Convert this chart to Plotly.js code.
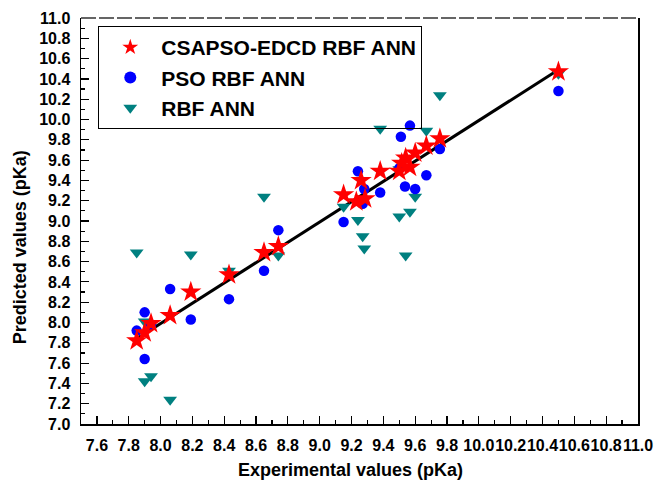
<!DOCTYPE html>
<html>
<head>
<meta charset="utf-8">
<script src="https://cdn.plot.ly/plotly-3.0.1.min.js"></script>
<style>html,body{margin:0;padding:0;background:#fff;}#chart{width:654px;height:483px;}</style>
</head>
<body>
<div id="chart"></div>
<script>
// CSAPSO-EDCD RBF ANN
var xStar = [7.85, 7.90, 7.94, 8.06, 8.19, 8.43, 8.65, 8.74, 9.15, 9.23, 9.285, 9.26, 9.38, 9.50, 9.515, 9.54, 9.567, 9.60, 9.67, 9.755, 10.50];
var yStar = [7.82, 7.90, 7.99, 8.07, 8.30, 8.47, 8.69, 8.75, 9.26, 9.19, 9.22, 9.40, 9.49, 9.49, 9.57, 9.62, 9.53, 9.67, 9.74, 9.81, 10.47];
// PSO RBF ANN
var xPso = [7.85, 7.90, 7.94, 7.90, 8.06, 8.19, 8.43, 8.65, 8.74, 9.15, 9.24, 9.27, 9.28, 9.38, 9.50, 9.51, 9.536, 9.567, 9.60, 9.67, 9.755, 10.50];
var yPso = [7.92, 8.10, 7.98, 7.64, 8.33, 8.03, 8.23, 8.51, 8.91, 8.99, 9.49, 9.17, 9.315, 9.28, 9.52, 9.83, 9.34, 9.94, 9.315, 9.45, 9.71, 10.28];
// RBF ANN
var xRbf = [7.85, 7.90, 7.90, 7.94, 8.06, 8.19, 8.43, 8.65, 8.74, 9.15, 9.24, 9.27, 9.28, 9.38, 9.50, 9.50, 9.54, 9.567, 9.60, 9.67, 9.755, 10.50];
var yRbf = [8.69, 8.01, 7.42, 7.47, 7.24, 8.67, 8.51, 9.24, 8.66, 9.14, 9.01, 8.85, 8.73, 9.91, 9.51, 9.045, 8.66, 9.09, 9.24, 9.89, 10.24, 10.45];
// fitted line
var lineX = [7.86, 10.48];
var lineY = [7.85, 10.47];

var seriesNames = ['CSAPSO-EDCD RBF ANN', 'PSO RBF ANN', 'RBF ANN'];
var xTitle = 'Experimental values (pKa)';
var yTitle = 'Predicted values (pKa)';

var FONT = 'Liberation Sans, Arial, sans-serif';

var traces = [
  {x: lineX, y: lineY, mode: 'lines', line: {color: '#000', width: 3}, showlegend: false, hoverinfo: 'skip'},
  {x: xRbf, y: yRbf, mode: 'markers', name: seriesNames[2],
   marker: {symbol: 'triangle-down', size: 12, color: '#008080'}},
  {x: xPso, y: yPso, mode: 'markers', name: seriesNames[1],
   marker: {symbol: 'circle', size: 10.5, color: '#0000ff'}},
  {x: xStar, y: yStar, mode: 'markers', name: seriesNames[0],
   marker: {symbol: 'star', size: 16, color: '#ff0000'}}
];

var layout = {
  width: 654, height: 483,
  margin: {l: 81, r: 16, t: 18, b: 59},
  paper_bgcolor: '#fff', plot_bgcolor: '#fff',
  font: {family: FONT, size: 16, color: '#000', weight: 'bold'},
  showlegend: true,
  legend: {
    x: 0.031, y: 0.98, xanchor: 'left', yanchor: 'top',
    bordercolor: '#000', borderwidth: 1, bgcolor: 'rgba(255,255,255,0)',
    font: {family: FONT, size: 21, color: '#000', weight: 'bold'},
    traceorder: 'reversed', tracegroupgap: 0, itemwidth: 52, itemsizing: 'constant'
  },
  xaxis: {
    range: [7.5, 11.0], showgrid: false, zeroline: false,
    showline: true, linecolor: '#000', linewidth: 1.5, mirror: false,
    tickmode: 'linear', tick0: 7.6, dtick: 0.2, tickformat: '.1f', tickangle: 0,
    ticks: 'inside', ticklen: 8, tickwidth: 1.2, tickcolor: '#000',
    ticklabelstandoff: 6,
    tickfont: {family: FONT, size: 16, color: '#000', weight: 'bold'},
    minor: {tick0: 7.5, dtick: 0.1, ticks: 'inside', ticklen: 4, tickwidth: 1.2, tickcolor: '#000', showgrid: false}
  },
  yaxis: {
    range: [7.0, 11.0], showgrid: false, zeroline: false,
    showline: true, linecolor: '#000', linewidth: 1.5, mirror: true,
    tickmode: 'linear', tick0: 7.0, dtick: 0.2, tickformat: '.1f',
    ticks: 'inside', ticklen: 8, tickwidth: 1.2, tickcolor: '#000',
    ticklabelstandoff: 6,
    tickfont: {family: FONT, size: 16, color: '#000', weight: 'bold'},
    minor: {tick0: 7.0, dtick: 0.1, ticks: 'inside', ticklen: 4, tickwidth: 1.2, tickcolor: '#000', showgrid: false}
  },
  shapes: [
    {type: 'line', xref: 'paper', yref: 'paper', x0: 0, x1: 1, y0: 1, y1: 1,
     line: {color: '#333', width: 1.5, dash: '15px,3px'}}
  ],
  annotations: [
    {text: xTitle, xref: 'paper', yref: 'paper', x: 0.483, y: -0.1126,
     xanchor: 'center', yanchor: 'middle', showarrow: false,
     font: {family: FONT, size: 18, color: '#000', weight: 'bold'}},
    {text: yTitle, xref: 'paper', yref: 'paper', x: -0.109, y: 0.436,
     xanchor: 'center', yanchor: 'middle', showarrow: false, textangle: -90,
     font: {family: FONT, size: 18, color: '#000', weight: 'bold'}}
  ]
};

Plotly.newPlot('chart', traces, layout, {displayModeBar: false, staticPlot: true});
</script>
</body>
</html>
